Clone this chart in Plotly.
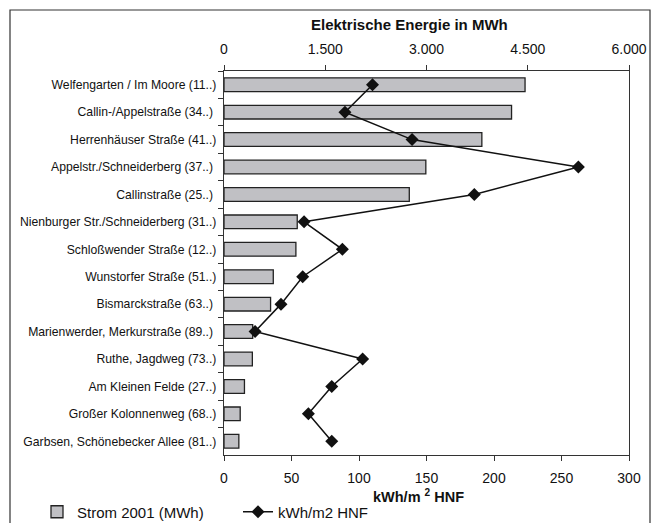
import plotly.graph_objects as go

categories = [
    "Welfengarten / Im Moore (11..)",
    "Callin-/Appelstraße (34..)\u00a0",
    "Herrenhäuser Straße (41..)",
    "Appelstr./Schneiderberg (37..)\u00a0",
    "Callinstraße (25..)\u00a0",
    "Nienburger Str./Schneiderberg (31..)",
    "Schloßwender Straße (12..)",
    "Wunstorfer Straße (51..)",
    "Bismarckstraße (63..)\u00a0",
    "Marienwerder, Merkurstraße (89..)\u00a0",
    "Ruthe, Jagdweg (73..)",
    "Am Kleinen Felde (27..)",
    "Großer Kolonnenweg (68..)",
    "Garbsen, Schönebecker Allee (81..)",
]
strom_mwh = [4460, 4260, 3820, 2990, 2745, 1085, 1065, 730, 690, 425, 420, 303, 240, 220]
kwh_m2 = [110, 89.6, 139.3, 262.5, 185.4, 59.3, 87.7, 58.3, 42.2, 23, 102.7, 79.8, 62.5, 79.8]

top_tickvals = [0, 1500, 3000, 4500, 6000]
top_ticktext = ["0", "1.500", "3.000", "4.500", "6.000"]
bottom_tickvals = [0, 50, 100, 150, 200, 250, 300]

FONT = "Liberation Sans, Arial, sans-serif"
AX = "#333333"

# plot area in pixels: x 224..629, y 71..455
L, R, T, B = 224, 629, 71, 455
W, H = R - L, B - T


def px(x):
    return (x - L) / W


def py(y):
    return (B - y) / H


fig = go.Figure()
fig.add_trace(go.Bar(
    x=strom_mwh, y=categories, orientation="h", xaxis="x",
    name="Strom 2001 (MWh)", width=0.5,
    marker=dict(color="#c0c0c4", line=dict(color="#222222", width=1.3)),
))
fig.add_trace(go.Scatter(
    x=kwh_m2, y=categories, mode="lines+markers", xaxis="x2",
    name="kWh/m2 HNF",
    line=dict(color="#111111", width=1.5),
    marker=dict(symbol="diamond", size=10, color="#111111"),
))

n = len(categories)
fig.update_layout(
    width=661, height=523,
    margin=dict(l=L, r=661 - R, t=T, b=523 - B, autoexpand=False),
    paper_bgcolor="white", plot_bgcolor="white",
    font=dict(family=FONT, color="#111111"),
    showlegend=True,
    legend=dict(orientation="h", x=px(37), xanchor="left", y=py(512), yanchor="middle",
                font=dict(size=15, family=FONT), entrywidth=156, entrywidthmode="pixels",
                bgcolor="rgba(0,0,0,0)", traceorder="normal"),
    xaxis=dict(
        range=[0, 6000], tickvals=top_tickvals, ticktext=top_ticktext,
        side="top", anchor="y",
        showline=True, linecolor=AX, linewidth=1.3, ticks="outside", ticklen=5,
        tickcolor=AX, showgrid=False, zeroline=False,
        tickfont=dict(size=14), ticklabelstandoff=5,
    ),
    xaxis2=dict(
        range=[0, 300], tickvals=bottom_tickvals,
        overlaying="x", side="bottom", anchor="y",
        showline=True, linecolor=AX, linewidth=1.3, ticks="outside", ticklen=5,
        tickcolor=AX, showgrid=False, zeroline=False,
        tickfont=dict(size=14), ticklabelstandoff=5,
    ),
    yaxis=dict(
        range=[n - 0.5, -0.5], tickson="boundaries", ticks="outside", ticklen=5,
        tickcolor=AX, showline=True, linecolor=AX, linewidth=1.3, mirror=True,
        showgrid=False, zeroline=False, tickfont=dict(size=12.2), ticklabelstandoff=4,
    ),
    annotations=[
        dict(text="<b>Elektrische Energie in MWh</b>", xref="paper", yref="paper",
             x=px(409), y=py(25), xanchor="center", yanchor="middle", showarrow=False,
             font=dict(size=15, family=FONT, color="#111111")),
        dict(text="<b>kWh/m <sup>2</sup> HNF</b>", xref="paper", yref="paper",
             x=px(418), y=py(496), xanchor="center", yanchor="middle", showarrow=False,
             font=dict(size=14.5, family=FONT, color="#111111")),
    ],
    shapes=[dict(type="rect", xref="paper", yref="paper",
                 x0=px(10), x1=px(650), y0=py(560), y1=py(10),
                 line=dict(color="#333333", width=1.2), layer="below")],
)

fig.write_html("out.html")
